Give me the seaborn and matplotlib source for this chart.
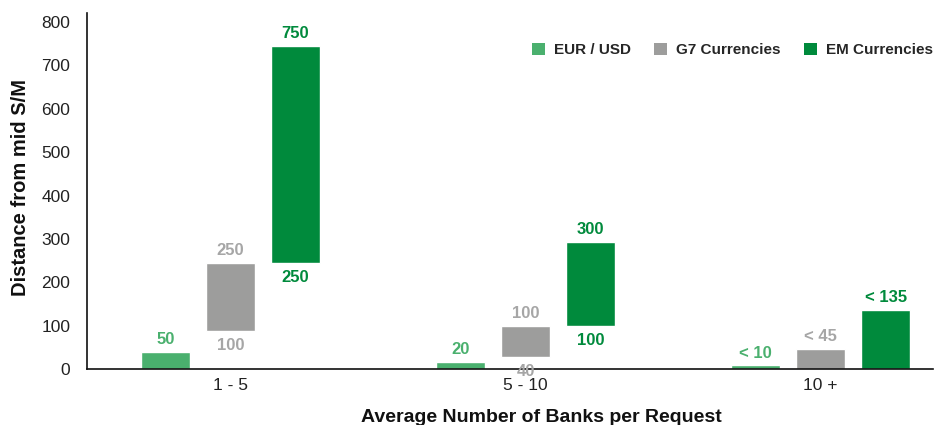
import numpy as np
import pandas as pd
import matplotlib.pyplot as plt
import seaborn as sns
from matplotlib.patches import Patch

# --- data ---
groups = ["1 - 5", "5 - 10", "10 +"]
series = ["EUR / USD", "G7 Currencies", "EM Currencies"]

eur_low = [0, 0, 0]
eur_high = [41, 18, 9]
g7_low = [88, 28, 0]
g7_high = [244, 99, 46]
em_low = [244, 99, 0]
em_high = [745, 294, 136]

eur_top_labels = ["50", "20", "< 10"]
eur_bottom_labels = ["", "", ""]
g7_top_labels = ["250", "100", "< 45"]
g7_bottom_labels = ["100", "40", ""]
em_top_labels = ["750", "300", "< 135"]
em_bottom_labels = ["250", "100", ""]

bar_colors = {"EUR / USD": "#4ab06e", "G7 Currencies": "#9d9d9c", "EM Currencies": "#008a3c"}
label_colors = {"EUR / USD": "#4ab06e", "G7 Currencies": "#a6a6a6", "EM Currencies": "#008a3c"}

lows = [eur_low, g7_low, em_low]
highs = [eur_high, g7_high, em_high]
tops = [eur_top_labels, g7_top_labels, em_top_labels]
bottoms = [eur_bottom_labels, g7_bottom_labels, em_bottom_labels]

rows = []
for name, lo, hi in zip(series, lows, highs):
    for g, a, b in zip(groups, lo, hi):
        rows.append({"group": g, "series": name, "span": b - a})
df = pd.DataFrame(rows)

sns.set_style("white")
plt.rcParams["font.family"] = ["Liberation Sans", "DejaVu Sans"]

fig = plt.figure(figsize=(9.47, 4.25), dpi=100)
ax = fig.add_axes([0.092, 0.131, 0.893, 0.838])

sns.barplot(data=df, x="group", y="span", hue="series", order=groups, hue_order=series,
            palette=bar_colors, saturation=1, width=0.66, gap=0.25,
            errorbar=None, legend=False, ax=ax)

# float the bars: move each bar up to its lower bound
for name, cont, lo, tl, bl in zip(series, ax.containers, lows, tops, bottoms):
    for patch, base, t_lab, b_lab in zip(cont.patches, lo, tl, bl):
        patch.set_y(base)
        cx = patch.get_x() + patch.get_width() / 2
        if t_lab:
            ax.annotate(t_lab, (cx, patch.get_y() + patch.get_height()), xytext=(0, 3.5),
                        textcoords="offset points", ha="center", va="bottom",
                        fontsize=12, fontweight="bold", color=label_colors[name])
        if b_lab:
            ax.annotate(b_lab, (cx, base), xytext=(0, -5),
                        textcoords="offset points", ha="center", va="top",
                        fontsize=12, fontweight="bold", color=label_colors[name])

ax.set_ylim(0, 820)
ax.set_xlim(-0.485, 2.38)
ax.set_yticks(range(0, 801, 100))
ax.tick_params(axis="both", length=0, labelsize=12.5, colors="#222222")
ax.tick_params(axis="y", pad=12)
ax.tick_params(axis="x", pad=6)

for side in ["top", "right"]:
    ax.spines[side].set_visible(False)
for side in ["left", "bottom"]:
    ax.spines[side].set_color("#111111")
    ax.spines[side].set_linewidth(1.2)

ax.set_ylabel("Distance from mid S/M", fontsize=14.5, fontweight="bold", color="#111111")
ax.yaxis.set_label_coords(-0.079, 0.51)
ax.yaxis.label.set_va("center")
ax.set_xlabel("Average Number of Banks per Request", fontsize=14, fontweight="bold", color="#111111")
ax.xaxis.set_label_coords(0.537, -0.135)
ax.xaxis.label.set_va("center")

handles = [Patch(facecolor=bar_colors[s], edgecolor="none") for s in series]
fig.legend(handles, series, loc="center right", bbox_to_anchor=(0.993, 1 - 50 / 425),
           ncol=3, frameon=False, handlelength=0.85, handleheight=0.85,
           handletextpad=0.6, columnspacing=1.5, borderpad=0,
           prop={"weight": "bold", "size": 11})

fig.savefig("out.png", dpi=100)
